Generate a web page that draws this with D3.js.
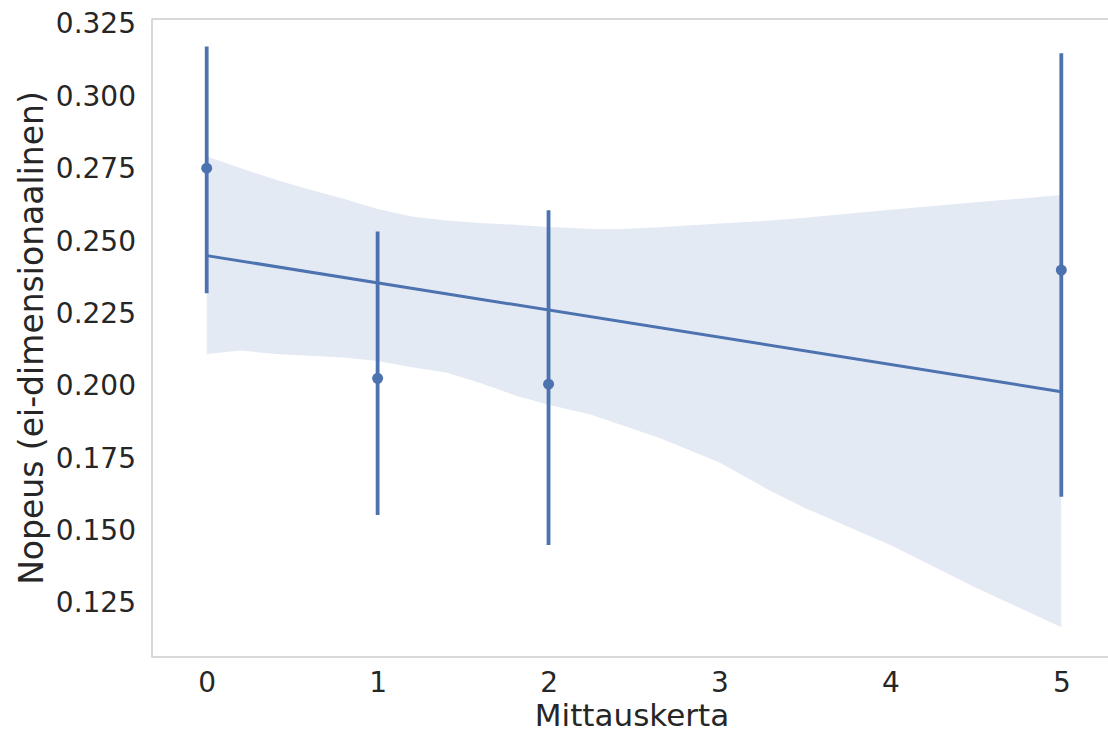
<!DOCTYPE html>
<html>
<head>
<meta charset="utf-8">
<script src="https://cdn.jsdelivr.net/npm/d3@7"></script>
<style>
  body { margin: 0; background: #fff; }
  text { font-family: "DejaVu Sans", sans-serif; fill: #262626; }
</style>
</head>
<body>
<svg width="1108" height="734"></svg>
<script>
// measurement rounds (x) with mean and 95% CI of speed
var rounds = [0, 1, 2, 5],
    means = [0.2752, 0.2026, 0.2006, 0.2400],
    errLow = [0.2320, 0.1554, 0.1450, 0.1617],
    errHigh = [0.3172, 0.2533, 0.2607, 0.3149];

// regression fit endpoints
var fitX = [0, 5],
    fitY = [0.2450, 0.1980];

// bootstrap confidence band of the fit
var bandX = [0, 0.2, 0.4, 0.6, 0.8, 1.0, 1.2, 1.4, 1.6, 1.8, 2.0, 2.25, 2.4, 2.65, 3.0, 3.3, 3.5, 4.0, 4.5, 5.0],
    bandUpper = [0.2792, 0.2752, 0.2713, 0.2678, 0.2646, 0.2611, 0.2585, 0.2571, 0.2563, 0.2557, 0.2549, 0.2542, 0.2541, 0.2548, 0.2561, 0.2571, 0.2581, 0.2608, 0.2634, 0.2659],
    bandLower = [0.2110, 0.2122, 0.2110, 0.2104, 0.2098, 0.2086, 0.2064, 0.2046, 0.2010, 0.1968, 0.1935, 0.1900, 0.1870, 0.1820, 0.1735, 0.1637, 0.1578, 0.1450, 0.1303, 0.1166];

var xTicks = [0, 1, 2, 3, 4, 5],
    yTicks = [0.125, 0.150, 0.175, 0.200, 0.225, 0.250, 0.275, 0.300, 0.325];

var blue = "#4c72b0";

var svg = d3.select("svg"),
    margin = {top: 19, left: 152, bottom: 77, right: -8},
    width = +svg.attr("width") - margin.left - margin.right,
    height = +svg.attr("height") - margin.top - margin.bottom;

var x = d3.scaleLinear()
    .domain([-0.32, 5.32])
    .range([0, width]);

var y = d3.scaleLinear()
    .domain([0.10635, 0.32673])
    .range([height, 0]);

var g = svg.append("g")
    .attr("transform", "translate(" + margin.left + "," + margin.top + ")");

// frame
g.append("rect")
    .attr("width", width)
    .attr("height", height)
    .attr("fill", "none")
    .attr("stroke", "#cccccc")
    .attr("stroke-width", 1.5);

// axes (no tick marks, just labels)
var xAxis = g.append("g")
    .attr("transform", "translate(0," + height + ")")
    .call(d3.axisBottom(x).tickValues(xTicks).tickSize(0).tickPadding(15).tickFormat(d3.format("d")));

var yAxis = g.append("g")
    .call(d3.axisLeft(y).tickValues(yTicks).tickSize(0).tickPadding(16).tickFormat(d3.format(".3f")));

[xAxis, yAxis].forEach(function(a) {
  a.select(".domain").remove();
  a.selectAll("text")
      .attr("font-family", "DejaVu Sans, sans-serif")
      .attr("font-size", 28)
      .attr("fill", "#262626");
});

// confidence band
var band = bandX.map(function(d, i) { return [d, bandLower[i], bandUpper[i]]; });

g.append("path")
    .datum(band)
    .attr("fill", blue)
    .attr("fill-opacity", 0.15)
    .attr("d", d3.area()
        .x(function(d) { return x(d[0]); })
        .y0(function(d) { return y(d[1]); })
        .y1(function(d) { return y(d[2]); }));

// regression line
g.append("path")
    .datum(fitX.map(function(d, i) { return [d, fitY[i]]; }))
    .attr("fill", "none")
    .attr("stroke", blue)
    .attr("stroke-width", 3)
    .attr("d", d3.line()
        .x(function(d) { return x(d[0]); })
        .y(function(d) { return y(d[1]); }));

// error bars
g.append("g")
  .selectAll("line")
    .data(rounds)
  .enter().append("line")
    .attr("x1", function(d) { return x(d); })
    .attr("x2", function(d) { return x(d); })
    .attr("y1", function(d, i) { return y(errLow[i]); })
    .attr("y2", function(d, i) { return y(errHigh[i]); })
    .attr("stroke", blue)
    .attr("stroke-width", 3.8);

// means
g.append("g")
  .selectAll("circle")
    .data(rounds)
  .enter().append("circle")
    .attr("cx", function(d) { return x(d); })
    .attr("cy", function(d, i) { return y(means[i]); })
    .attr("r", 5.5)
    .attr("fill", blue);

// axis titles
g.append("text")
    .attr("x", 480)
    .attr("y", height + 69)
    .attr("text-anchor", "middle")
    .attr("font-size", 31)
    .text("Mittauskerta");

g.append("text")
    .attr("transform", "translate(" + (43 - margin.left) + "," + (height / 2) + ") rotate(-90)")
    .attr("text-anchor", "middle")
    .attr("font-size", 33)
    .text("Nopeus (ei-dimensionaalinen)");
</script>
</body>
</html>
